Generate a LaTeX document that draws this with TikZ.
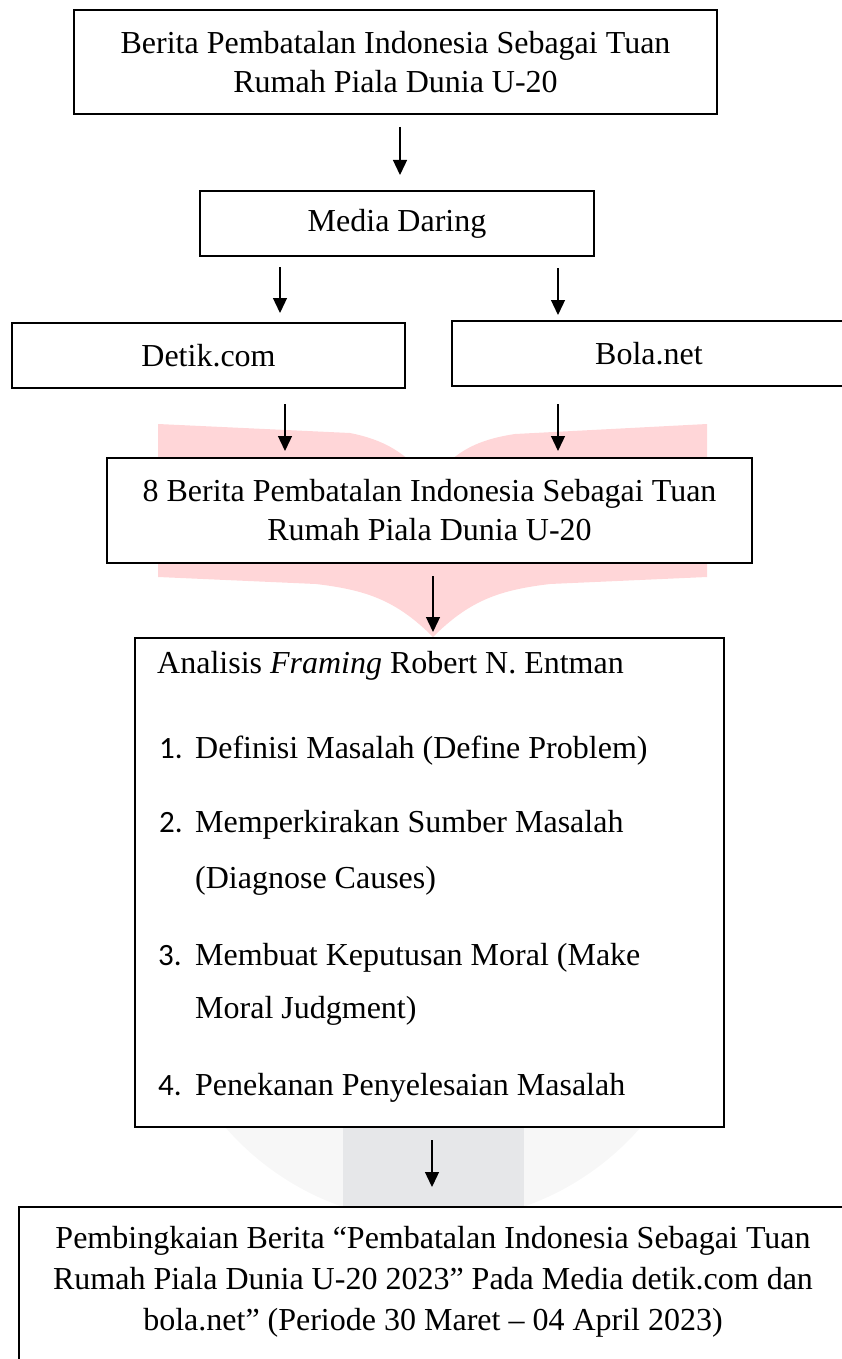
\documentclass[tikz,border=0pt]{standalone}
\usepackage{fontspec}
\setmainfont{Liberation Serif}
\newfontfamily\numfont{Carlito}
\usetikzlibrary{arrows.meta}
\definecolor{wmpink}{RGB}{255,214,216}
\definecolor{wmgray}{RGB}{230,231,233}
\definecolor{wmcircle}{RGB}{247,247,247}
\tikzset{
  box/.style={draw=black, line width=2pt, fill=white, rectangle, inner sep=0pt, align=center, font=\fontsize{32}{39}\selectfont},
  arr/.style={line width=1.3pt, -{Triangle[width=14pt,length=15pt]}},
  itemtxt/.style={anchor=base west, inner sep=0pt, font=\fontsize{32}{39}\selectfont},
  numtxt/.style={anchor=base west, inner sep=0pt, font=\numfont\fontsize{31}{39}\selectfont},
}
\begin{document}
\begin{tikzpicture}[x=1pt,y=-1pt]
\useasboundingbox (0,0) rectangle (841,1359);
% watermark
\fill[wmcircle] (433,947) circle[radius=275];
\fill[wmgray] (343,1000) rectangle (524,1207);
\fill[wmpink] (158,424) -- (350,433) .. controls (385,440) and (400,452) .. (415,465) -- (445,465)
  .. controls (460,452) and (475,440) .. (515,434) -- (707,424) -- (707,577) -- (550,584)
  .. controls (500,590) and (470,600) .. (433,637) .. controls (396,600) and (366,590) .. (316,584)
  -- (158,577) -- cycle;
% boxes
\node[box, minimum width=643pt, minimum height=104pt] (b1) at (395.5,62)
  {Berita Pembatalan Indonesia Sebagai Tuan\\Rumah Piala Dunia U-20};
\node[box, minimum width=394pt, minimum height=65pt] (b2) at (397,223.5) {Media Daring};
\node[box, minimum width=393pt, minimum height=65pt] (b3) at (208.5,355.5) {Detik.com};
\node[box, minimum width=394pt, minimum height=65pt] (b4) at (649,353.5) {Bola.net};
\node[box, minimum width=645pt, minimum height=105pt] (b5) at (429.5,510.5)
  {8 Berita Pembatalan Indonesia Sebagai Tuan\\Rumah Piala Dunia U-20};
\node[box, minimum width=589pt, minimum height=489pt] (b6) at (429.5,882.5) {};
\node[box, minimum width=828pt, minimum height=200pt] (b7) at (433,1307) {};
% analysis contents
\node[itemtxt] (t0) at (157,673) {Analisis \textit{Framing} Robert N. Entman};
\node[numtxt] (n1) at (159,758) {1.};
\node[itemtxt] (i1) at (195,758) {Definisi Masalah (Define Problem)};
\node[numtxt] (n2) at (159,832) {2.};
\node[itemtxt] (i2) at (195,832) {Memperkirakan Sumber Masalah};
\node[itemtxt] (i2b) at (195,888) {(Diagnose Causes)};
\node[numtxt] (n3) at (158,965) {3.};
\node[itemtxt] (i3) at (195,965) {Membuat Keputusan Moral (Make};
\node[itemtxt] (i3b) at (195,1018) {Moral Judgment)};
\node[numtxt] (n4) at (158,1095) {4.};
\node[itemtxt] (i4) at (195,1095) {Penekanan Penyelesaian Masalah};
% final text
\node[align=center, inner sep=0pt, font=\fontsize{32}{41}\selectfont] (t7) at (433,1281.5)
  {Pembingkaian Berita “Pembatalan Indonesia Sebagai Tuan\\Rumah Piala Dunia U-20 2023” Pada Media detik.com dan\\bola.net” (Periode 30 Maret – 04 April 2023)};
% connectors
\draw[arr] ([xshift=4.5pt,yshift=-12pt]b1.south) -- ([xshift=3pt,yshift=15pt]b2.north);
\draw[arr] ([xshift=-117pt,yshift=-10pt]b2.south) -- ([xshift=71.5pt,yshift=9pt]b3.north);
\draw[arr] ([xshift=161pt,yshift=-11pt]b2.south) -- ([xshift=-91pt,yshift=5pt]b4.north);
\draw[arr] ([xshift=76.5pt,yshift=-15pt]b3.south) -- ([xshift=-144.5pt,yshift=6pt]b5.north);
\draw[arr] ([xshift=-91pt,yshift=-17pt]b4.south) -- ([xshift=128.5pt,yshift=6pt]b5.north);
\draw[arr] ([xshift=3.5pt,yshift=-12pt]b5.south) -- ([xshift=3.5pt,yshift=5pt]b6.north);
\draw[arr] ([xshift=2.5pt,yshift=-12pt]b6.south) -- ([xshift=-1pt,yshift=19pt]b7.north);
\end{tikzpicture}
\end{document}
